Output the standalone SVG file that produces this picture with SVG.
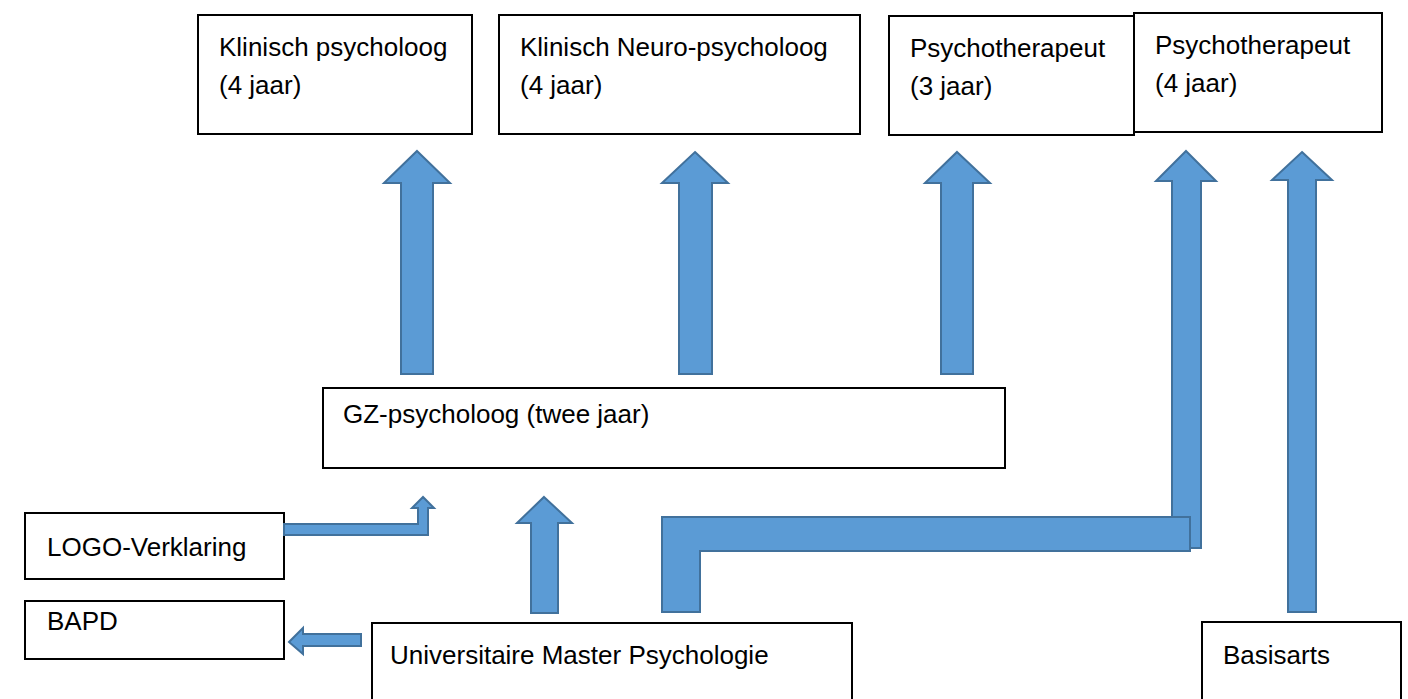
<svg xmlns="http://www.w3.org/2000/svg" width="1408" height="699" viewBox="0 0 1408 699">
<style>
.box{fill:#fff;stroke:#000;stroke-width:2}
.lbl{font-family:"Liberation Sans",Arial,sans-serif;font-size:26px;fill:#000}
.arr{fill:#5B9BD5;stroke:#41719C;stroke-width:2;stroke-linejoin:miter}
</style>
<rect width="1408" height="699" fill="#fff"/>
<g id="n-klinisch"><rect class="box" x="198" y="15" width="274" height="119"/><text class="lbl" x="219" y="56">Klinisch psycholoog</text><text class="lbl" x="219" y="94">(4 jaar)</text></g>
<g id="n-neuro"><rect class="box" x="499" y="15" width="361" height="119"/><text class="lbl" x="520" y="56">Klinisch Neuro-psycholoog</text><text class="lbl" x="520" y="94">(4 jaar)</text></g>
<g id="n-psy3"><rect class="box" x="889" y="16" width="245" height="119"/><text class="lbl" x="910" y="57">Psychotherapeut</text><text class="lbl" x="910" y="95">(3 jaar)</text></g>
<g id="n-psy4"><rect class="box" x="1134" y="13" width="248" height="119"/><text class="lbl" x="1155" y="54">Psychotherapeut</text><text class="lbl" x="1155" y="92">(4 jaar)</text></g>
<g id="n-gz"><rect class="box" x="323" y="388" width="682" height="80"/><text class="lbl" x="343" y="423">GZ-psycholoog (twee jaar)</text></g>
<g id="n-logo"><rect class="box" x="25" y="513" width="259" height="66"/><text class="lbl" x="47" y="556">LOGO-Verklaring</text></g>
<g id="n-bapd"><rect class="box" x="25" y="601" width="259" height="58"/><text class="lbl" x="47" y="630">BAPD</text></g>
<g id="n-master"><rect class="box" x="372" y="623" width="480" height="80"/><text class="lbl" x="390" y="664">Universitaire Master Psychologie</text></g>
<g id="n-basis"><rect class="box" x="1202" y="622" width="199" height="80"/><text class="lbl" x="1223" y="664">Basisarts</text></g>
<g id="connectors">
<polygon class="arr" points="417,151 450,183 433,183 433,374 401,374 401,183 384,183"/>
<polygon class="arr" points="695,152 728,183 712,183 712,374 679,374 679,183 662,183"/>
<polygon class="arr" points="957,152 990,183 973,183 973,374 941,374 941,183 925,183"/>
<polygon class="arr" points="544,497 572,523 558,523 558,613 531,613 531,523 517,523"/>
<polygon class="arr" points="1186,151 1216,181 1201,181 1201,548 1172,548 1172,181 1156,181"/>
<polygon class="arr" points="662,612 662,517 1190,517 1190,551 700,551 700,612"/>
<polygon class="arr" points="1302,152 1332,180 1316,180 1316,612 1288,612 1288,180 1272,180"/>
<polygon class="arr" points="284,524 418,524 418,508 412,508 423,497 434,508 428,508 428,535 284,535"/>
<polygon class="arr" points="289,642 303,628 303,634 361,634 361,646 303,646 303,654"/>
</g>
</svg>
